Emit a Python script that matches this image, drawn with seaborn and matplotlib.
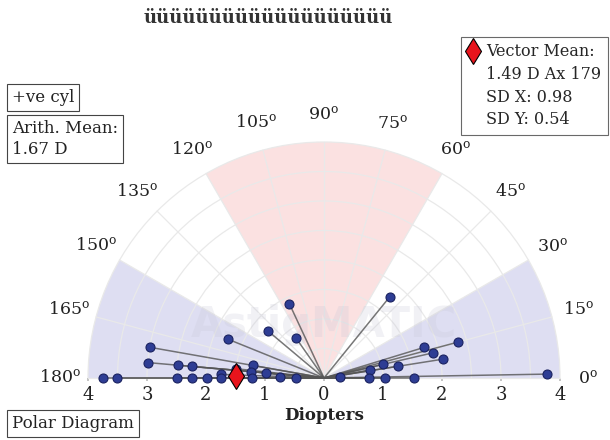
import numpy as np
import pandas as pd
import matplotlib
matplotlib.use("Agg")
import matplotlib.pyplot as plt
from matplotlib.patches import Wedge, Arc
from matplotlib.lines import Line2D
import seaborn as sns

# =========================
# DATA (power in D, axis in degrees)
# =========================
power = [1.39, 1.24, 0.83, 1.75, 3.00, 3.00, 2.48, 2.24, 2.49, 2.24, 1.98,
         1.75, 1.75, 1.23, 1.25, 1.22, 0.98, 0.75, 0.47, 3.75, 3.50, 1.50,
         1.77, 2.35, 1.78, 1.90, 2.04, 1.03, 1.27, 0.79, 0.27, 0.76, 1.03,
         1.53, 3.78]
axis = [115, 140, 125, 158, 170, 175, 175, 175, 180, 180, 180,
        178, 180, 170, 175, 180, 175, 179, 179, 180, 180, 174,
        51, 15, 17, 13, 9, 13, 9, 10, 3, 0, 0,
        0, 1]

mean_power = 1.49
mean_axis = 179

tick_vals = [-4, -3, -2, -1, 0, 1, 2, 3, 4]
angle_ticks = list(range(0, 181, 15))
ring_radii = [0.5, 1, 1.5, 2, 2.5, 3, 3.5, 4]

# zones: (start, end, colour)
zones = [(60, 120, "#fbe1e1"), (0, 30, "#dedef2"), (150, 180, "#dedef2")]

title_txt = "üüüüüüüüüüüüüüüüüüü"
legend_lines = ["Vector Mean:", "1.49 D Ax 179", "SD X: 0.98", "SD Y: 0.54"]

# =========================
# STYLE
# =========================
sns.set_theme(style="white")
plt.rcParams["font.family"] = ["DejaVu Serif"]
plt.rcParams["mathtext.fontset"] = "dejavuserif"

df = pd.DataFrame({"power": power, "axis": axis})
df["x"] = df["power"] * np.cos(np.radians(df["axis"]))
df["y"] = df["power"] * np.sin(np.radians(df["axis"]))

fig = plt.figure(figsize=(6.1, 4.4), dpi=100)
ax = fig.add_axes([0, 0, 1, 1])
ax.set_xlim(-324 / 59, 286 / 59)
ax.set_ylim(-62 / 59, 378 / 59)

# zones
for a0, a1, c in zones:
    ax.add_patch(Wedge((0, 0), 4, a0, a1, facecolor=c, edgecolor="none", zorder=0))

# grid
for r in ring_radii:
    ax.add_patch(Arc((0, 0), 2 * r, 2 * r, theta1=0, theta2=180,
                     color="#e9e9e9", lw=0.9, zorder=1))
for a in angle_ticks:
    ax.plot([0, 4 * np.cos(np.radians(a))], [0, 4 * np.sin(np.radians(a))],
            color="#e9e9e9", lw=0.9, zorder=1)

# watermark
ax.text(0, 0.9, "AstigMATIC", ha="center", va="center", fontsize=30,
        fontweight="bold", family="DejaVu Sans", color="#c8c8d8", alpha=0.25, zorder=1)

# spokes
for _, row in df.iterrows():
    ax.plot([0, row["x"]], [0, row["y"]], color="#555555", lw=1.1, alpha=0.8, zorder=2)

sns.scatterplot(data=df, x="x", y="y", ax=ax, s=42, color="#2e3d94",
                edgecolor="#1a2260", linewidth=0.8, zorder=3, legend=False)

mx = mean_power * np.cos(np.radians(mean_axis))
my = mean_power * np.sin(np.radians(mean_axis))
ax.plot(mx, my, marker="d", markersize=13, color="#e8141c",
        markeredgecolor="black", markeredgewidth=0.8, zorder=4)

# angle labels
for a in angle_ticks:
    ax.text(4.47 * np.cos(np.radians(a)), 4.47 * np.sin(np.radians(a)),
            f"{a}$^{{\\mathrm{{o}}}}$", ha="center", va="center", fontsize=12.5,
            color="#222222")

# x ticks along the baseline
ax.spines["bottom"].set_position(("data", 0))
for s in ["top", "right", "left", "bottom"]:
    ax.spines[s].set_visible(False)
ax.set_xticks(tick_vals)
ax.set_xticklabels([str(abs(v)) for v in tick_vals])
ax.set_yticks([])
ax.tick_params(axis="x", length=2, color="#bbbbbb", pad=4, labelsize=13,
               labelcolor="#222222", bottom=True)
ax.set_xlabel("")
ax.set_ylabel("")
ax.text(0, -0.64, "Diopters", ha="center", va="center", fontsize=12,
        fontweight="bold", color="#222222")

# title and boxes
fig.text(268 / 610, 1 - 18 / 440, title_txt, ha="center", va="center",
         fontsize=13, fontweight="bold", color="#333333")

box = dict(boxstyle="square,pad=0.3", fc="white", ec="#444444", lw=0.8)
fig.text(12 / 610, 1 - 98 / 440, "+ve cyl", ha="left", va="center", fontsize=12,
         color="#222222", bbox=box)
fig.text(12 / 610, 1 - 139 / 440, "Arith. Mean:\n1.67 D", ha="left", va="center",
         fontsize=12, color="#222222", linespacing=1.3, bbox=box)
fig.text(12 / 610, 1 - 423 / 440, "Polar Diagram", ha="left", va="center",
         fontsize=12, color="#222222", bbox=box)

handles = [Line2D([], [], linestyle="none", marker="d", markersize=13,
                  color="#e8141c", markeredgecolor="black", markeredgewidth=0.8)]
handles += [Line2D([], [], linestyle="none", color="none") for _ in legend_lines[1:]]
leg = fig.legend(handles, legend_lines, loc="upper right",
                 bbox_to_anchor=(608 / 610, 1 - 37 / 440), fontsize=11.5,
                 frameon=True, fancybox=False, edgecolor="#444444",
                 handlelength=0.7, handletextpad=0.5, labelspacing=0.35,
                 borderpad=0.4, borderaxespad=0)
leg.get_frame().set_linewidth(0.8)

fig.savefig("out.png", dpi=100)
